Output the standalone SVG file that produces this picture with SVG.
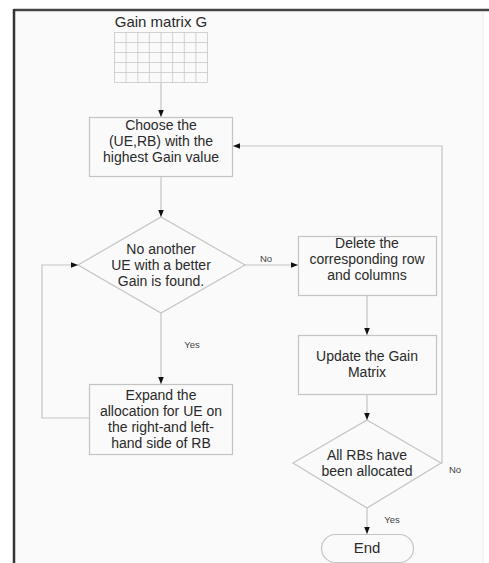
<svg xmlns="http://www.w3.org/2000/svg" width="489" height="563" viewBox="0 0 489 563">
<defs>
<style>
.t{font-family:"Liberation Sans",Arial,sans-serif;font-size:14px;fill:#2a2a2a;text-anchor:middle}
.s{font-family:"Liberation Sans",Arial,sans-serif;font-size:9.5px;fill:#444;text-anchor:middle}
.n{fill:#fafafa;stroke:#c4c4c4;stroke-width:1.2}
.c{fill:none;stroke:#c4c4c4;stroke-width:1.2}
.g{stroke:#c8c8c8;stroke-width:0.8}
</style>
<marker id="ah" viewBox="0 0 10 10" refX="10" refY="5" markerWidth="7" markerHeight="7" markerUnits="userSpaceOnUse" orient="auto">
<path d="M0,1 L10,5 L0,9 Z" fill="#111"/>
</marker>
</defs>
<rect x="0" y="0" width="489" height="563" fill="#ffffff"/>
<rect x="14" y="10" width="470" height="553" fill="#fafafa"/>
<line x1="483" y1="12" x2="483" y2="563" stroke="#f0f0f0" stroke-width="1"/>
<line x1="14" y1="10" x2="489" y2="10" stroke="#444" stroke-width="2.5"/>
<line x1="14" y1="9" x2="14" y2="563" stroke="#333" stroke-width="2.5"/>

<g id="matrix">
<text class="t" x="161" y="27" style="font-size:15px">Gain matrix G</text>
<rect x="114.5" y="32.5" width="93" height="50" fill="#fafafa" stroke="#c8c8c8" stroke-width="0.8"/>
<g class="g">
<line x1="126.1" y1="32.5" x2="126.1" y2="82.5"/>
<line x1="137.8" y1="32.5" x2="137.8" y2="82.5"/>
<line x1="149.4" y1="32.5" x2="149.4" y2="82.5"/>
<line x1="161" y1="32.5" x2="161" y2="82.5"/>
<line x1="172.6" y1="32.5" x2="172.6" y2="82.5"/>
<line x1="184.3" y1="32.5" x2="184.3" y2="82.5"/>
<line x1="195.9" y1="32.5" x2="195.9" y2="82.5"/>
<line x1="114.5" y1="42.5" x2="207.5" y2="42.5"/>
<line x1="114.5" y1="52.5" x2="207.5" y2="52.5"/>
<line x1="114.5" y1="62.5" x2="207.5" y2="62.5"/>
<line x1="114.5" y1="72.5" x2="207.5" y2="72.5"/>
</g>
</g>

<g id="choose">
<rect class="n" x="89.5" y="117.5" width="143" height="59"/>
<text class="t" x="161" y="130">Choose the</text>
<text class="t" x="161" y="146">(UE,RB) with the</text>
<text class="t" x="161" y="162">highest Gain value</text>
</g>

<g id="decision1">
<polygon class="n" points="161,217 245,265 161,313 78,265"/>
<text class="t" x="161" y="254">No another</text>
<text class="t" x="161" y="270">UE with a better</text>
<text class="t" x="161" y="286">Gain is found.</text>
</g>

<g id="delete">
<rect class="n" x="298.5" y="236.5" width="138" height="59"/>
<text class="t" x="367" y="248">Delete the</text>
<text class="t" x="367" y="264">corresponding row</text>
<text class="t" x="367" y="280">and columns</text>
</g>

<g id="update">
<rect class="n" x="298.5" y="335.5" width="138" height="59"/>
<text class="t" x="367" y="361">Update the Gain</text>
<text class="t" x="367" y="377">Matrix</text>
</g>

<g id="expand">
<rect class="n" x="89.5" y="384.5" width="143" height="70"/>
<text class="t" x="161" y="400">Expand the</text>
<text class="t" x="161" y="416">allocation for UE on</text>
<text class="t" x="161" y="432">the right-and left-</text>
<text class="t" x="161" y="448">hand side of RB</text>
</g>

<g id="decision2">
<polygon class="n" points="367,420 441,463 367,508 293,463"/>
<text class="t" x="367" y="460">All RBs have</text>
<text class="t" x="367" y="476">been allocated</text>
</g>

<g id="end">
<rect class="n" x="321.5" y="534.5" width="92" height="28" rx="14" ry="14"/>
<text class="t" x="367" y="553" style="font-size:15px">End</text>
</g>

<g id="connectors">
<line class="c" x1="161" y1="83" x2="161" y2="117" marker-end="url(#ah)"/>
<line class="c" x1="161" y1="177" x2="161" y2="217" marker-end="url(#ah)"/>
<line class="c" x1="245" y1="265" x2="298" y2="265" marker-end="url(#ah)"/>
<line class="c" x1="367" y1="296" x2="367" y2="335" marker-end="url(#ah)"/>
<line class="c" x1="367" y1="395" x2="367" y2="420" marker-end="url(#ah)"/>
<line class="c" x1="367" y1="508" x2="367" y2="534" marker-end="url(#ah)"/>
<polyline class="c" points="441,463 442,463 442,146 233,146" marker-end="url(#ah)"/>
<line class="c" x1="161" y1="313" x2="161" y2="384" marker-end="url(#ah)"/>
<polyline class="c" points="89,418 42,418 42,265 78,265" marker-end="url(#ah)"/>
<text class="s" x="266" y="262">No</text>
<text class="s" x="192" y="348">Yes</text>
<text class="s" x="392" y="523">Yes</text>
<text class="s" x="455" y="473">No</text>
</g>
</svg>
